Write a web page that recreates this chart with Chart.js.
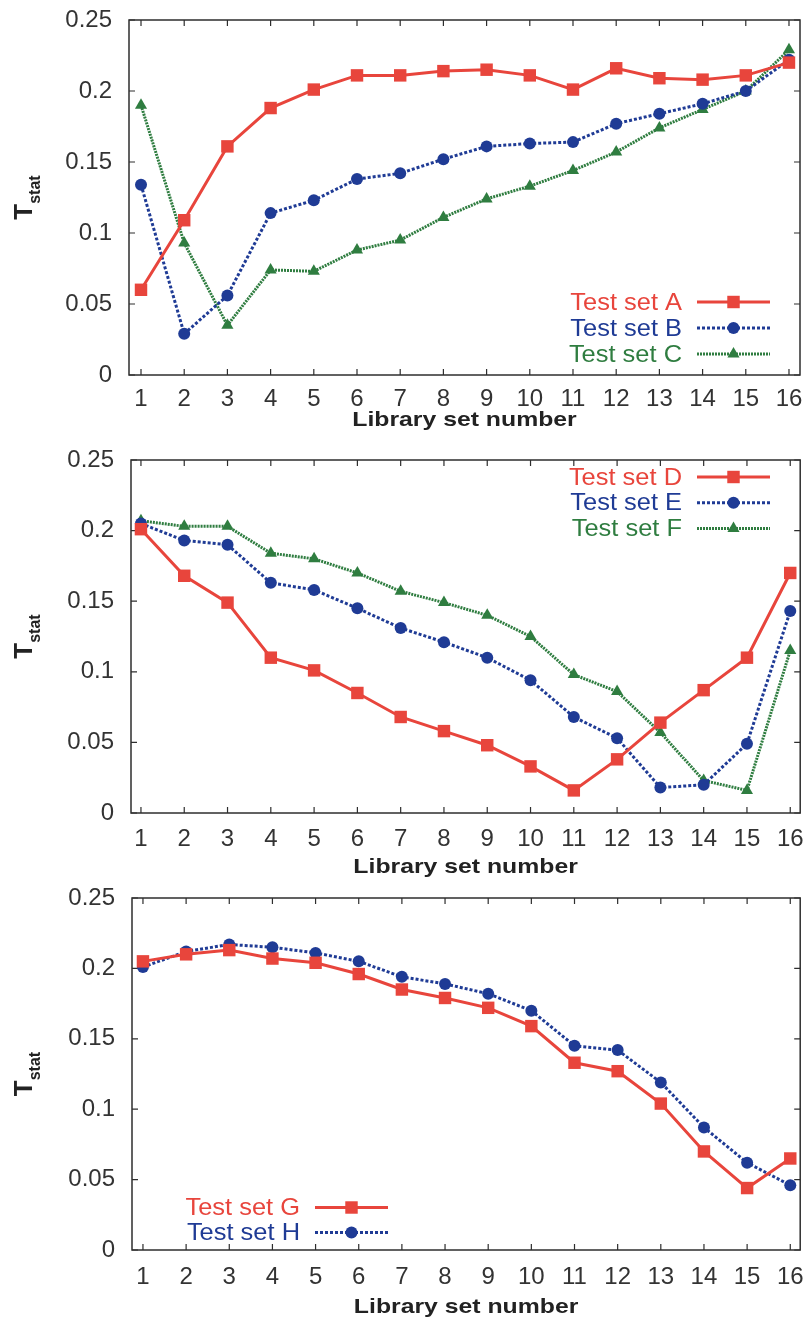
<!DOCTYPE html>
<html><head><meta charset="utf-8">
<script src="https://cdn.jsdelivr.net/npm/chart.js@4.4.1/dist/chart.umd.min.js"></script>
<style>html,body{margin:0;padding:0;background:#fff}canvas{display:block}</style>
</head><body>
<canvas id="c1" width="809" height="440"></canvas>
<canvas id="c2" width="809" height="440"></canvas>
<canvas id="c3" width="809" height="443"></canvas>
<script>
// ---------- data ----------
const librarySets = [1,2,3,4,5,6,7,8,9,10,11,12,13,14,15,16];
const yTickValues = [0,0.05,0.1,0.15,0.2,0.25];
const yTickLabels = ['0','0.05','0.1','0.15','0.2','0.25'];
const xTitle = 'Library set number';

const testSetA = [0.060,0.109,0.161,0.188,0.201,0.211,0.211,0.214,0.215,0.211,0.201,0.216,0.209,0.208,0.211,0.220];
const testSetB = [0.134,0.029,0.056,0.114,0.123,0.138,0.142,0.152,0.161,0.163,0.164,0.177,0.184,0.191,0.200,0.222];
const testSetC = [0.190,0.093,0.035,0.074,0.073,0.088,0.095,0.111,0.124,0.133,0.144,0.157,0.174,0.187,0.200,0.229];

const testSetD = [0.201,0.168,0.149,0.110,0.101,0.085,0.068,0.058,0.048,0.033,0.016,0.038,0.064,0.087,0.110,0.170];
const testSetE = [0.205,0.193,0.190,0.163,0.158,0.145,0.131,0.121,0.110,0.094,0.068,0.053,0.018,0.020,0.049,0.143];
const testSetF = [0.207,0.203,0.203,0.184,0.180,0.170,0.157,0.149,0.140,0.125,0.098,0.086,0.057,0.023,0.016,0.115];

const testSetG = [0.205,0.210,0.213,0.207,0.204,0.196,0.185,0.179,0.172,0.159,0.133,0.127,0.104,0.070,0.044,0.065];
const testSetH = [0.201,0.212,0.217,0.215,0.211,0.205,0.194,0.189,0.182,0.170,0.145,0.142,0.119,0.087,0.062,0.046];

// ---------- styles ----------
const RED = '#e8453c', BLUE = '#1f3b95', GREEN = '#2f7d40';
const FONT = '"Liberation Sans", Arial, Helvetica, sans-serif';
const AXIS_TXT = '#333333';

function pts(arr){ return librarySets.map((x,i)=>({x:x, y:arr[i]})); }

function ds(label, arr, kind){
  const base = {label:label, data:pts(arr), borderWidth:3, tension:0, clip:false, fill:false};
  if(kind==='red') return Object.assign(base,{borderColor:RED, backgroundColor:RED, pointStyle:'rect', pointRadius:8.8, pointBorderWidth:0, pointBackgroundColor:RED});
  if(kind==='blue') return Object.assign(base,{borderColor:BLUE, backgroundColor:BLUE, borderDash:[3,2], pointStyle:'circle', pointRadius:6, pointBorderWidth:0, pointBackgroundColor:BLUE});
  return Object.assign(base,{borderColor:GREEN, backgroundColor:GREEN, borderDash:[2,1], pointStyle:'triangle', pointRadius:7, pointBorderWidth:0, pointBackgroundColor:GREEN});
}

// frame + inward ticks on all four sides
const framePlugin = {
  id:'frame',
  beforeDatasetsDraw(chart){
    const {ctx, chartArea:a, scales:{x, y}} = chart;
    ctx.save();
    ctx.strokeStyle = '#2e2e2e';
    ctx.lineWidth = 1.5;
    ctx.strokeRect(a.left, a.top, a.right-a.left, a.bottom-a.top);
    ctx.lineWidth = 1.2;
    ctx.beginPath();
    const L = 6;
    x.ticks.forEach(t=>{ const p = x.getPixelForValue(t.value);
      ctx.moveTo(p, a.bottom); ctx.lineTo(p, a.bottom-L);
      ctx.moveTo(p, a.top); ctx.lineTo(p, a.top+L); });
    y.ticks.forEach(t=>{ const p = y.getPixelForValue(t.value);
      ctx.moveTo(a.left, p); ctx.lineTo(a.left+L, p);
      ctx.moveTo(a.right, p); ctx.lineTo(a.right-L, p); });
    ctx.stroke();
    ctx.restore();
  }
};

// axis titles: T_stat with subscript (rotated) and the x title
const titlesPlugin = {
  id:'titles',
  afterDraw(chart, args, opts){
    const {ctx, chartArea:a} = chart;
    const cy = (a.top + a.bottom)/2;
    ctx.save();
    ctx.translate(32, cy);
    ctx.rotate(-Math.PI/2);
    ctx.fillStyle = '#222';
    ctx.textBaseline = 'alphabetic';
    ctx.textAlign = 'left';
    ctx.font = 'bold 26px ' + FONT;
    const wT = ctx.measureText('T').width;
    ctx.font = 'bold 16px ' + FONT;
    const wS = ctx.measureText('stat').width;
    const start = -(wT + wS)/2;
    ctx.font = 'bold 26px ' + FONT;
    ctx.fillText('T', start, 0);
    ctx.font = 'bold 16px ' + FONT;
    ctx.fillText('stat', start + wT, 8);
    ctx.restore();

    ctx.save();
    ctx.translate((a.left + a.right)/2, opts.titleBaseline);
    ctx.scale(1.18, 1);
    ctx.fillStyle = '#222';
    ctx.font = 'bold 21px ' + FONT;
    ctx.textAlign = 'center';
    ctx.textBaseline = 'alphabetic';
    ctx.fillText(xTitle, 0, 0);
    ctx.restore();
  }
};

// in-plot legend: text right-aligned, line sample with marker on the right
const keyPlugin = {
  id:'key',
  afterDraw(chart, args, opts){
    const {ctx} = chart;
    chart.data.datasets.forEach((d,i)=>{
      const yy = opts.y0 + i*opts.step;
      ctx.save();
      ctx.translate(opts.textRight, yy + 1);
      ctx.scale(1.06, 1);
      ctx.font = '24px ' + FONT;
      ctx.fillStyle = d.borderColor;
      ctx.textAlign = 'right';
      ctx.textBaseline = 'middle';
      ctx.fillText(d.label, 0, 0);
      ctx.restore();
      ctx.save();
      const x0 = opts.textRight + 15, x1 = x0 + 73;
      ctx.strokeStyle = d.borderColor;
      ctx.fillStyle = d.borderColor;
      ctx.lineWidth = d.borderWidth;
      ctx.setLineDash(d.borderDash || []);
      ctx.beginPath(); ctx.moveTo(x0, yy); ctx.lineTo(x1, yy); ctx.stroke();
      ctx.setLineDash([]);
      Chart.helpers.drawPoint(ctx, {pointStyle:d.pointStyle, radius:d.pointRadius, rotation:0, borderWidth:0}, (x0+x1)/2, yy);
      ctx.restore();
    });
  }
};

function makeChart(id, datasets, L, key){
  const canvas = document.getElementById(id);
  const H = canvas.height;
  new Chart(canvas, {
    type:'line',
    data:{datasets:datasets},
    plugins:[framePlugin, titlesPlugin, keyPlugin],
    options:{
      responsive:false, animation:false, devicePixelRatio:1,
      layout:{padding:{top:L.top, right:809-L.right, left:0, bottom:0}},
      plugins:{legend:{display:false}, tooltip:{enabled:false}, key:key, titles:{titleBaseline:L.titleBaseline}},
      scales:{
        x:{type:'linear', min:L.xmin, max:L.xmax,
           grid:{display:false, drawTicks:false}, border:{display:false},
           afterBuildTicks:s=>{ s.ticks = librarySets.map(v=>({value:v})); },
           afterFit:s=>{ s.height = H - L.bottom; s.paddingLeft = 0; s.paddingRight = 0; },
           ticks:{padding:L.xpad, autoSkip:false, maxRotation:0, color:AXIS_TXT,
                  font:{family:FONT, size:24}, callback:v=>String(v)},
           title:{display:false}},
        y:{type:'linear', min:0, max:0.25,
           grid:{display:false, drawTicks:false}, border:{display:false},
           afterBuildTicks:s=>{ s.ticks = yTickValues.map(v=>({value:v})); },
           afterFit:s=>{ s.width = L.left; s.paddingTop = 0; s.paddingBottom = 0; },
           ticks:{padding:17, color:AXIS_TXT, font:{family:FONT, size:24},
                  callback:(v)=>{ const i = yTickValues.findIndex(t=>Math.abs(t-v)<1e-9); return i>=0 ? yTickLabels[i] : ''; }}}
      }
    }
  });
}

makeChart('c1', [ds('Test set A',testSetA,'red'), ds('Test set B',testSetB,'blue'), ds('Test set C',testSetC,'green')],
  {top:20, bottom:375, left:129, right:800, xmin:0.722, xmax:16.255, xpad:9.6, titleBaseline:426},
  {textRight:682, y0:302, step:26});
makeChart('c2', [ds('Test set D',testSetD,'red'), ds('Test set E',testSetE,'blue'), ds('Test set F',testSetF,'green')],
  {top:20, bottom:373, left:131, right:802, xmin:0.77, xmax:16.23, xpad:11.6, titleBaseline:433},
  {textRight:682, y0:37, step:25.7});
makeChart('c3', [ds('Test set G',testSetG,'red'), ds('Test set H',testSetH,'blue')],
  {top:18, bottom:370, left:132, right:802, xmin:0.746, xmax:16.23, xpad:12.6, titleBaseline:433},
  {textRight:300, y0:327.5, step:25});
</script>
</body></html>
